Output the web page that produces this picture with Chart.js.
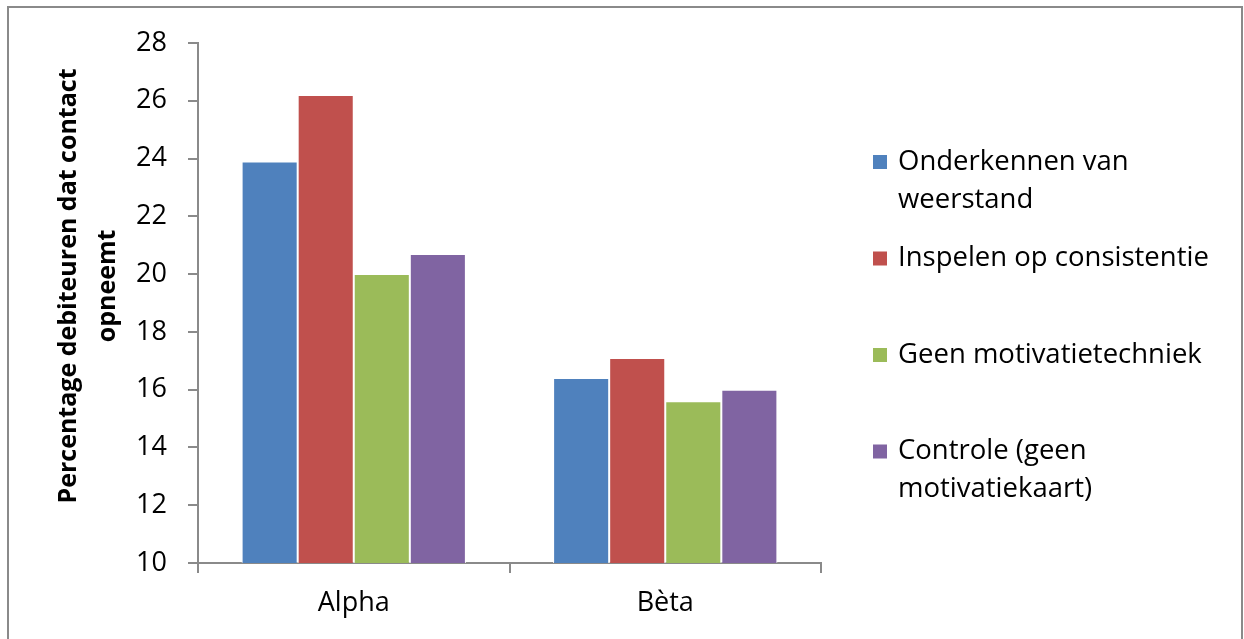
<!DOCTYPE html>
<html lang="nl">
<head>
    <meta charset="UTF-8">
    <title>Percentage debiteuren dat contact opneemt</title>
    <script src="https://cdn.jsdelivr.net/npm/chart.js"></script>
    <style>
        html, body {
            margin: 0;
            padding: 0;
            background: #ffffff;
        }

        #wrap {
            position: relative;
            width: 1244px;
            height: 639px;
            overflow: hidden;
        }

        #frame {
            position: absolute;
            left: 7px;
            top: 6px;
            width: 1232px;
            height: 640px;
            border: 2px solid #8a8a8a;
            border-bottom: none;
        }

        #chartCanvas {
            position: absolute;
            left: 0;
            top: 0;
        }
    </style>
</head>
<body>
<div id="wrap">
    <div id="frame"></div>
    <canvas id="chartCanvas" width="1244" height="639"></canvas>
</div>

<script>
    // Groepen op de x-as
    const groups = ['Alpha', 'Bèta'];

    // Namen van de condities (regels zoals in de legenda)
    const conditionLines = [
        ['Onderkennen van', 'weerstand'],
        ['Inspelen op consistentie'],
        ['Geen motivatietechniek'],
        ['Controle (geen', 'motivatiekaart)']
    ];

    // Percentages per conditie: [Alpha, Bèta]
    const onderkennen = [23.9, 16.4];
    const inspelen = [26.2, 17.1];
    const geenTechniek = [20.0, 15.6];
    const controle = [20.7, 16.0];

    const conditionColors = ['#4f81bd', '#c0504d', '#9bbb59', '#8064a2'];

    // y-as: van 10 tot 28 in stappen van 2
    const yMin = 10;
    const yMax = 28;
    const yStep = 2;

    // Astitel, in twee regels
    const yTitleLines = ['Percentage debiteuren dat contact', 'opneemt'];

    const fontFamily = '"Open Sans", "Liberation Sans", sans-serif';
    const axisColor = '#8a8a8a';

    // Legenda zelf tekenen, zodat namen over twee regels kunnen lopen
    const sideLegend = {
        id: 'sideLegend',
        afterDraw(chart) {
            const ctx = chart.ctx;
            const boxX = 873;
            const textX = 898;
            const firstY = 162;
            const itemStep = 96.5;
            const lineStep = 38;
            const box = 14;

            ctx.save();
            ctx.font = '27.5px ' + fontFamily;
            ctx.textBaseline = 'middle';
            ctx.textAlign = 'left';
            chart.data.datasets.forEach((ds, i) => {
                const y = firstY + i * itemStep;
                ctx.fillStyle = ds.backgroundColor;
                ctx.fillRect(boxX, y - box / 2, box, box);
                ctx.fillStyle = '#000000';
                conditionLines[i].forEach((line, j) => {
                    ctx.fillText(line, textX, y + j * lineStep);
                });
            });
            ctx.restore();
        }
    };

    // Verticale astitel links, iets boven het midden van de as
    const sideTitle = {
        id: 'sideTitle',
        afterDraw(chart) {
            const ctx = chart.ctx;
            const x0 = 69;
            const yMid = 286;
            const lineStep = 39;

            ctx.save();
            ctx.font = 'bold 25px ' + fontFamily;
            ctx.fillStyle = '#000000';
            ctx.textAlign = 'center';
            ctx.textBaseline = 'middle';
            yTitleLines.forEach((line, j) => {
                ctx.save();
                ctx.translate(x0 + j * lineStep, yMid);
                ctx.rotate(-Math.PI / 2);
                ctx.fillText(line, 0, 0);
                ctx.restore();
            });
            ctx.restore();
        }
    };

    function makeDataset(index, values) {
        return {
            label: conditionLines[index].join(' '),
            data: values,
            backgroundColor: conditionColors[index],
            borderColor: '#ffffff',
            borderWidth: 1,
            borderSkipped: 'bottom',
            barPercentage: 1.0,
            categoryPercentage: 0.72
        };
    }

    const ctx = document.getElementById('chartCanvas').getContext('2d');
    const chart = new Chart(ctx, {
        type: 'bar',
        data: {
            labels: groups,
            datasets: [
                makeDataset(0, onderkennen),
                makeDataset(1, inspelen),
                makeDataset(2, geenTechniek),
                makeDataset(3, controle)
            ]
        },
        options: {
            responsive: false,
            animation: false,
            layout: {
                padding: {top: 43, right: 423, bottom: 16, left: 50}
            },
            plugins: {
                legend: {display: false},
                tooltip: {enabled: false}
            },
            scales: {
                x: {
                    afterFit(scale) {
                        scale.height = 60;
                    },
                    grid: {
                        offset: true,
                        drawOnChartArea: false,
                        drawTicks: true,
                        tickLength: 10,
                        color: axisColor,
                        lineWidth: 2
                    },
                    border: {color: axisColor, width: 2},
                    ticks: {
                        color: '#000000',
                        padding: 14,
                        font: {family: fontFamily, size: 27}
                    }
                },
                y: {
                    min: yMin,
                    max: yMax,
                    afterFit(scale) {
                        scale.width = 148;
                    },
                    grid: {
                        drawOnChartArea: false,
                        drawTicks: true,
                        tickLength: 10,
                        color: axisColor,
                        lineWidth: 2
                    },
                    border: {color: axisColor, width: 2},
                    ticks: {
                        stepSize: yStep,
                        color: '#000000',
                        padding: 21,
                        font: {family: fontFamily, size: 27}
                    }
                }
            }
        },
        plugins: [sideLegend, sideTitle]
    });
</script>
</body>
</html>
